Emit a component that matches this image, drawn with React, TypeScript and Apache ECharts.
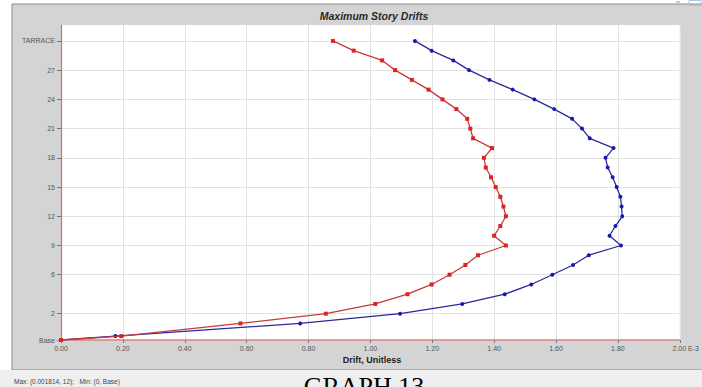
import React, { useEffect, useRef } from 'react';
import * as echarts from 'echarts';

// Story names (bottom to top) and their elevations (m)
const storyNames = ['Base', 'PLINTH', '1', '2', '3', '4', '5', '6', '7', '8', '9', '10', '11', '12', '13', '14', '15', '16', '17', '18', '19', '20', '21', '22', '23', '24', '25', '26', '27', '28', '29', 'TARRACE'];
const storyElevations = [0, 1.2, 5.1, 8.1, 11.1, 14.1, 17.1, 20.1, 23.1, 26.1, 29.1, 32.1, 35.1, 38.1, 41.1, 44.1, 47.1, 50.1, 53.1, 56.1, 59.1, 62.1, 65.1, 68.1, 71.1, 74.1, 77.1, 80.1, 83.1, 86.1, 89.1, 92.1];
const labeledStories = ['Base', '2', '6', '9', '12', '15', '18', '21', '24', '27', 'TARRACE'];

// Drift values (x 1e-3)
const driftRed = [0, 0.195, 0.58, 0.856, 1.016, 1.12, 1.198, 1.256, 1.307, 1.348, 1.438, 1.40, 1.42, 1.438, 1.43, 1.42, 1.405, 1.39, 1.373, 1.367, 1.393, 1.332, 1.323, 1.313, 1.278, 1.233, 1.188, 1.134, 1.08, 1.038, 0.946, 0.879];
const driftBlue = [0, 0.176, 0.773, 1.096, 1.297, 1.434, 1.52, 1.588, 1.655, 1.706, 1.81, 1.773, 1.792, 1.814, 1.812, 1.808, 1.796, 1.783, 1.767, 1.76, 1.786, 1.709, 1.684, 1.652, 1.594, 1.53, 1.46, 1.385, 1.319, 1.268, 1.198, 1.144];

const titleText = 'Maximum Story Drifts';
const xAxisTitle = 'Drift, Unitless';
const footerText = 'Max: (0.001814, 12);   Min: (0, Base)';
const captionText = 'GRAPH 13';

export default function App() {
  const ref = useRef<HTMLDivElement>(null);

  useEffect(() => {
    if (!ref.current) return;
    const chart = echarts.init(ref.current, null, { renderer: 'svg' });

    const labelValues = labeledStories.map((n) => storyElevations[storyNames.indexOf(n)]);
    const nameForValue = (v: number) => {
      let best = 0;
      for (let i = 0; i < storyElevations.length; i++) {
        if (Math.abs(storyElevations[i] - v) < Math.abs(storyElevations[best] - v)) best = i;
      }
      return storyNames[best];
    };

    const redData = driftRed.map((d, i) => [d, storyElevations[i]]);
    const blueData = driftBlue.map((d, i) => [d, storyElevations[i]]);

    chart.setOption({
      animation: false,
      backgroundColor: '#ffffff',
      graphic: [
        { type: 'rect', z: -10, shape: { x: 12, y: 4, width: 700, height: 366 }, style: { fill: '#d4d4d4', stroke: '#8c8c8c', lineWidth: 1 } },
        { type: 'rect', z: -10, shape: { x: 0, y: 370, width: 702, height: 17 }, style: { fill: '#efefef' } },
        { type: 'rect', z: -10, shape: { x: 689, y: 0.5, width: 12, height: 5 }, style: { fill: 'none', stroke: '#a8c4e0', lineWidth: 1 } },
        { type: 'line', z: -10, shape: { x1: 676, y1: 2, x2: 680, y2: 2 }, style: { stroke: '#999', lineWidth: 1 } },
        { type: 'text', z: 10, x: 374, y: 16, style: { text: titleText, fill: '#2a2a2a', font: 'italic bold 10.5px "Liberation Sans", Arial, sans-serif', align: 'center', verticalAlign: 'middle' } },
        { type: 'text', z: 10, x: 372, y: 360, style: { text: xAxisTitle, fill: '#222', font: 'bold 9px "Liberation Sans", Arial, sans-serif', align: 'center', verticalAlign: 'middle' } },
        { type: 'text', z: 10, x: 14, y: 381, style: { text: footerText, fill: '#444', font: '6.5px "Liberation Sans", Arial, sans-serif', align: 'left', verticalAlign: 'middle' } },
        { type: 'text', z: 10, x: 364, y: 373, style: { text: captionText, fill: '#000', font: '26px "Liberation Serif", "Times New Roman", serif', align: 'center', verticalAlign: 'top' } },
      ],
      grid: { left: 61, right: 14, top: 25, bottom: 47, show: true, backgroundColor: '#ffffff', borderWidth: 0, containLabel: false },
      xAxis: {
        type: 'value',
        min: 0,
        max: 2,
        interval: 0.2,
        axisLine: { show: true, onZero: false, lineStyle: { color: '#dc7f7f', width: 1.5 } },
        axisTick: { show: true, length: 3, lineStyle: { color: '#777' } },
        axisLabel: {
          fontSize: 7,
          color: '#555',
          fontFamily: '"Liberation Sans", Arial, sans-serif',
          margin: 5,
          formatter: (v: number) => (Math.abs(v - 2) < 1e-6 ? '{m|2.00 E-3}' : v.toFixed(2)),
          rich: { m: { fontSize: 7, color: '#555', padding: [0, 0, 0, 12], fontFamily: '"Liberation Sans", Arial, sans-serif' } },
        },
        splitLine: { show: true, lineStyle: { color: '#e2e2e2', width: 1 } },
      },
      yAxis: {
        type: 'value',
        min: 0,
        max: 97,
        axisLine: { show: true, onZero: false, lineStyle: { color: '#c97070', width: 1.2 } },
        axisTick: { show: true, length: 4, customValues: labelValues, lineStyle: { color: '#777' } },
        axisLabel: {
          customValues: labelValues,
          fontSize: 7,
          color: '#555',
          fontFamily: '"Liberation Sans", Arial, sans-serif',
          margin: 6,
          formatter: (v: number) => nameForValue(v),
        },
        splitLine: { show: true, lineStyle: { color: '#e2e2e2', width: 1 } },
      },
      series: [
        {
          type: 'line',
          data: blueData,
          symbol: 'circle',
          symbolSize: 4,
          showSymbol: true,
          lineStyle: { color: '#2a2a9a', width: 1.3 },
          itemStyle: { color: '#1818b8' },
          z: 3,
        },
        {
          type: 'line',
          data: redData,
          symbol: 'rect',
          symbolSize: 4,
          showSymbol: true,
          lineStyle: { color: '#c83a3a', width: 1.3 },
          itemStyle: { color: '#dd2222' },
          z: 4,
        },
      ],
    });

    return () => chart.dispose();
  }, []);

  return <div ref={ref} style={{ position: 'fixed', left: 0, top: 0, width: 702, height: 387 }} />;
}
